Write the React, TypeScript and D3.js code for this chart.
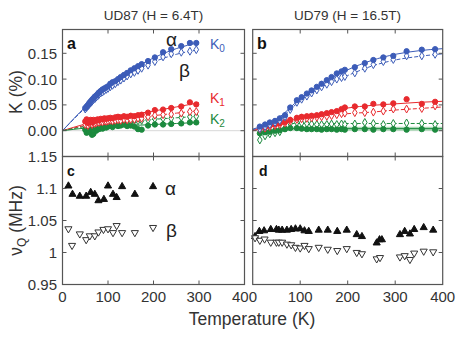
import React from 'react'
import * as d3 from 'd3'

// ---- data ----
// panel a (UD87, 6.4T): Knight shift components vs T
const tA = [50, 53, 56, 59, 62, 65, 68, 71, 74, 77, 80, 84, 88, 92, 96, 100, 105, 110, 116, 122, 128, 135, 142, 150, 158, 166, 174, 188, 203, 221, 239, 261, 280, 294]
const aK0alpha = [0.044, 0.047, 0.050, 0.054, 0.057, 0.060, 0.063, 0.066, 0.068, 0.071, 0.074, 0.077, 0.080, 0.082, 0.084, 0.086, 0.091, 0.094, 0.096, 0.100, 0.104, 0.108, 0.112, 0.117, 0.121, 0.125, 0.129, 0.135, 0.142, 0.152, 0.158, 0.164, 0.170, 0.170]
const aK0beta = [0.042, 0.045, 0.048, 0.051, 0.054, 0.057, 0.060, 0.062, 0.065, 0.067, 0.070, 0.073, 0.075, 0.078, 0.080, 0.082, 0.085, 0.088, 0.091, 0.095, 0.098, 0.102, 0.106, 0.110, 0.113, 0.117, 0.121, 0.127, 0.134, 0.143, 0.149, 0.152, 0.154, 0.157]
const aK1alpha = [0.018, 0.022, 0.015, 0.019, 0.021, 0.016, 0.021, 0.019, 0.020, 0.022, 0.020, 0.023, 0.022, 0.024, 0.023, 0.024, 0.025, 0.024, 0.026, 0.027, 0.026, 0.028, 0.027, 0.029, 0.028, 0.030, 0.031, 0.035, 0.040, 0.041, 0.044, 0.047, 0.055, 0.051]
const aK1beta = [0.012, 0.016, 0.010, 0.014, 0.016, 0.012, 0.015, 0.014, 0.015, 0.017, 0.016, 0.018, 0.017, 0.019, 0.018, 0.019, 0.020, 0.019, 0.020, 0.021, 0.020, 0.022, 0.021, 0.022, 0.022, 0.024, 0.024, 0.027, 0.030, 0.031, 0.032, 0.034, 0.037, 0.037]
const aK2alpha = [0.002, -0.004, 0.006, -0.003, 0.004, -0.008, -0.006, 0.005, 0.000, 0.008, 0.003, 0.009, 0.004, 0.010, 0.006, 0.008, 0.010, 0.007, 0.011, 0.009, 0.010, 0.012, 0.009, 0.010, 0.008, 0.003, 0.002, 0.010, 0.012, 0.012, 0.013, 0.014, 0.016, 0.016]
const aK2beta = [0.008, 0.010, 0.012, 0.009, 0.013, 0.010, 0.014, 0.012, 0.015, 0.013, 0.016, 0.014, 0.016, 0.015, 0.017, 0.016, 0.018, 0.017, 0.018, 0.017, 0.019, 0.018, 0.019, 0.018, 0.020, 0.019, 0.020, 0.021, 0.023, 0.024, 0.024, 0.026, 0.027, 0.028]

// panel b (UD79, 16.5T)
const tB = [15, 26, 36, 47, 57, 68, 79, 93, 103, 114, 124, 135, 145, 156, 166, 177, 187, 194, 215, 236, 254, 275, 296, 324, 356, 384]
const bK0alpha = [0.008, 0.012, 0.016, 0.019, 0.024, 0.030, 0.045, 0.059, 0.065, 0.072, 0.078, 0.085, 0.091, 0.098, 0.104, 0.111, 0.115, 0.118, 0.123, 0.131, 0.137, 0.142, 0.145, 0.154, 0.157, 0.158]
const bK0beta = [0.004, 0.008, 0.012, 0.016, 0.020, 0.027, 0.041, 0.055, 0.061, 0.067, 0.073, 0.079, 0.085, 0.090, 0.095, 0.100, 0.103, 0.105, 0.112, 0.121, 0.128, 0.134, 0.138, 0.145, 0.145, 0.148]
const bK1alpha = [0.005, 0.007, 0.010, 0.012, 0.014, 0.017, 0.021, 0.025, 0.027, 0.028, 0.029, 0.030, 0.032, 0.034, 0.036, 0.038, 0.042, 0.045, 0.047, 0.047, 0.052, 0.051, 0.053, 0.061, 0.052, 0.056]
const bK1beta = [0.003, 0.005, 0.008, 0.010, 0.012, 0.015, 0.019, 0.022, 0.023, 0.024, 0.025, 0.026, 0.027, 0.028, 0.029, 0.031, 0.033, 0.034, 0.035, 0.035, 0.036, 0.038, 0.042, 0.042, 0.043, 0.048]
const bK2alpha = [-0.005, -0.003, -0.002, 0.000, 0.001, 0.003, 0.005, 0.005, 0.004, 0.003, 0.003, 0.003, 0.002, 0.003, 0.003, 0.002, 0.003, 0.002, 0.003, 0.003, 0.002, 0.003, 0.003, 0.002, 0.003, 0.002]
const bK2beta = [-0.018, -0.010, -0.006, -0.004, -0.002, 0.005, 0.014, 0.016, 0.015, 0.014, 0.013, 0.012, 0.012, 0.012, 0.013, 0.012, 0.013, 0.012, 0.013, 0.016, 0.014, 0.012, 0.014, 0.015, 0.014, 0.012]

// fit curves
const fitAT = [0, 50, 100, 150, 200, 250, 300]
const fitAK0alpha = [0, 0.046, 0.086, 0.117, 0.141, 0.159, 0.171]
const fitAK0beta = [0, 0.044, 0.082, 0.111, 0.133, 0.148, 0.157]
const fitAK1alpha = [0, 0.013, 0.024, 0.031, 0.038, 0.046, 0.054]
const fitAK1beta = [0, 0.010, 0.018, 0.023, 0.029, 0.034, 0.039]
const fitAK2alpha = [0, 0.005, 0.008, 0.010, 0.012, 0.014, 0.016]
const fitAK2beta = [0, 0.008, 0.014, 0.018, 0.022, 0.025, 0.028]

const fitBT = [0, 50, 100, 150, 200, 250, 300, 350, 400]
const fitBK0alpha = [0.003, 0.022, 0.062, 0.094, 0.118, 0.136, 0.148, 0.155, 0.159]
const fitBK0beta = [0.002, 0.018, 0.058, 0.087, 0.107, 0.125, 0.137, 0.144, 0.149]
const fitBK1alpha = [0.0, 0.012, 0.026, 0.035, 0.044, 0.049, 0.052, 0.055, 0.057]
const fitBK1beta = [0.0, 0.010, 0.022, 0.028, 0.033, 0.036, 0.040, 0.043, 0.046]
const fitBK2T = [80, 400]
const fitBK2alpha = [0.004, 0.004]
const fitBK2beta = [0.014, 0.014]

// panel c/d: quadrupole frequencies
const tC = [13, 22, 38, 52, 62, 71, 79, 91, 100, 111, 119, 131, 159, 199]
const cAlpha = [1.104, 1.091, 1.088, 1.088, 1.094, 1.091, 1.081, 1.083, 1.104, 1.091, 1.086, 1.103, 1.091, 1.103]
const tCb = [13, 21, 38, 52, 60, 71, 79, 90, 100, 111, 119, 131, 159, 199]
const cBeta = [1.037, 1.011, 1.029, 1.020, 1.026, 1.026, 1.032, 1.036, 1.037, 1.031, 1.042, 1.031, 1.031, 1.039]

const tD = [5, 14, 24, 38, 50, 55, 62, 72, 81, 90, 100, 109, 118, 139, 158, 178, 198, 219, 230, 261, 267, 272, 310, 320, 331, 340, 360, 380]
const dAlpha = [1.025, 1.033, 1.034, 1.036, 1.036, 1.035, 1.035, 1.035, 1.036, 1.037, 1.037, 1.034, 1.033, 1.035, 1.035, 1.033, 1.035, 1.028, 1.025, 1.015, 1.020, 1.020, 1.028, 1.033, 1.029, 1.036, 1.039, 1.035]
const tDb = [5, 15, 25, 38, 50, 55, 62, 72, 81, 90, 100, 109, 118, 139, 158, 178, 198, 219, 230, 261, 268, 310, 320, 331, 340, 360, 380]
const dBeta = [1.023, 1.019, 1.021, 1.016, 1.016, 1.016, 1.016, 1.013, 1.012, 1.008, 1.007, 1.011, 1.006, 1.008, 1.005, 1.003, 1.006, 1.000, 0.998, 0.990, 0.992, 0.993, 0.995, 0.989, 0.999, 1.002, 1.001]

const tempTicks = [0, 100, 200, 300, 400]
const kTicks = [0, 0.05, 0.1, 0.15]
const kTickLabels = ['0.00', '0.05', '0.10', '0.15']
const nuTicks = [0.95, 1, 1.05, 1.1, 1.15]
const nuTickLabels = ['0.95', '1', '1.05', '1.1', '1.15']

const BLUE = '#3c5cb8'
const RED = '#e82a2e'
const GREEN = '#1c8a3e'
const INK = '#333'
const FRAME = '#555'
const FONT = '"Liberation Sans", Arial, Helvetica, sans-serif'

const top = 29.5, mid = 156.5, bottom = 284.5
const xa = d3.scaleLinear().domain([0, 400]).range([62.5, 244.5])
const xb = d3.scaleLinear().domain([0, 400]).range([252.7, 442.7])
const yK = d3.scaleLinear().domain([-0.05, 0.15]).range([mid, 53.3])
const yNu = d3.scaleLinear().domain([0.95, 1.15]).range([bottom, mid])

const circle = d3.symbol(d3.symbolCircle, 22)()
const diamond = d3.symbol(d3.symbolDiamond, 18)()
const tri = d3.symbol(d3.symbolTriangle, 22)()

function Frame({ x, y0, y1, yTicks }) {
  const [x0, x1] = x.range()
  return (
    <g>
      <rect x={x0} y={y0} width={x1 - x0} height={y1 - y0} fill="none" stroke={FRAME} strokeWidth={1.2} />
      {tempTicks.slice(1, -1).map(t => (
        <g key={t}>
          <line x1={x(t)} x2={x(t)} y1={y0} y2={y0 + 4} stroke={FRAME} />
          <line x1={x(t)} x2={x(t)} y1={y1} y2={y1 - 4} stroke={FRAME} />
        </g>
      ))}
      {yTicks.map(v => (
        <g key={v}>
          <line x1={x0} x2={x0 + 4} y1={v} y2={v} stroke={FRAME} />
          <line x1={x1} x2={x1 - 4} y1={v} y2={v} stroke={FRAME} />
        </g>
      ))}
    </g>
  )
}

function Marks({ x, y, ts, vs, shape, fill, stroke, rot = 0 }) {
  return (
    <g>
      {ts.map((t, i) => (
        <path key={i} d={shape} transform={`translate(${x(t)},${y(vs[i])}) rotate(${rot})`}
          fill={fill} stroke={stroke} strokeWidth={1} />
      ))}
    </g>
  )
}

function Fit({ x, y, ts, vs, color, dash, width = 1 }) {
  const line = d3.line<number>().x((_, i) => x(ts[i])).y(v => y(v)).curve(d3.curveMonotoneX)
  return <path d={line(vs) || ''} fill="none" stroke={color} strokeWidth={width} strokeDasharray={dash} />
}

export default function App() {
  const kTickY = kTicks.map(v => yK(v))
  const nuTickY = nuTicks.slice(1, -1).map(v => yNu(v))
  const kSeries = (x, ts, sets) => sets.map(([vs, color, kind], i) => (
    <Marks key={i} x={x} y={yK} ts={ts} vs={vs}
      shape={kind === 'a' ? circle : diamond}
      fill={kind === 'a' ? color : 'white'} stroke={color} />
  ))
  return (
    <svg width={463} height={340} style={{ position: 'absolute', left: 0, top: 0, fontFamily: FONT }}>
      <rect width={463} height={340} fill="white" />
      {/* titles */}
      <text x={153.5} y={20} textAnchor="middle" fontSize={13.5} fill={INK}>UD87 (H = 6.4T)</text>
      <text x={347.5} y={20} textAnchor="middle" fontSize={13.5} fill={INK}>UD79 (H = 16.5T)</text>

      {/* zero lines */}
      <line x1={xa(0)} x2={xa(400)} y1={yK(0)} y2={yK(0)} stroke="#d8d8d8" strokeWidth={1} />
      <line x1={xb(0)} x2={xb(400)} y1={yK(0)} y2={yK(0)} stroke="#d8d8d8" strokeWidth={1} />

      {/* panel a fits */}
      <Fit x={xa} y={yK} ts={fitAT} vs={fitAK0alpha} color={BLUE} />
      <Fit x={xa} y={yK} ts={fitAT} vs={fitAK0beta} color={BLUE} dash="4,2" />
      <Fit x={xa} y={yK} ts={fitAT} vs={fitAK1alpha} color={RED} />
      <Fit x={xa} y={yK} ts={fitAT} vs={fitAK1beta} color={RED} dash="4,2" />
      <Fit x={xa} y={yK} ts={fitAT} vs={fitAK2alpha} color={GREEN} />
      <Fit x={xa} y={yK} ts={fitAT} vs={fitAK2beta} color={GREEN} dash="4,2" />
      {kSeries(xa, tA, [
        [aK2beta, GREEN, 'b'], [aK2alpha, GREEN, 'a'],
        [aK1beta, RED, 'b'], [aK1alpha, RED, 'a'],
        [aK0beta, BLUE, 'b'], [aK0alpha, BLUE, 'a'],
      ])}

      {/* panel b fits */}
      <Fit x={xb} y={yK} ts={fitBK2T} vs={fitBK2alpha} color="#a8d8b4" width={4} />
      <Fit x={xb} y={yK} ts={fitBT} vs={fitBK0alpha} color={BLUE} />
      <Fit x={xb} y={yK} ts={fitBT} vs={fitBK0beta} color={BLUE} dash="4,2" />
      <Fit x={xb} y={yK} ts={fitBT} vs={fitBK1alpha} color={RED} />
      <Fit x={xb} y={yK} ts={fitBT} vs={fitBK1beta} color={RED} dash="4,2" />
      <Fit x={xb} y={yK} ts={fitBK2T} vs={fitBK2alpha} color={GREEN} />
      <Fit x={xb} y={yK} ts={fitBK2T} vs={fitBK2beta} color={GREEN} dash="4,2" />
      {kSeries(xb, tB, [
        [bK2beta, GREEN, 'b'], [bK2alpha, GREEN, 'a'],
        [bK1beta, RED, 'b'], [bK1alpha, RED, 'a'],
        [bK0beta, BLUE, 'b'], [bK0alpha, BLUE, 'a'],
      ])}

      {/* panel c / d markers */}
      <Marks x={xa} y={yNu} ts={tC} vs={cAlpha} shape={tri} fill="#111" stroke="#111" />
      <Marks x={xa} y={yNu} ts={tCb} vs={cBeta} shape={tri} fill="white" stroke="#333" rot={180} />
      <Marks x={xb} y={yNu} ts={tD} vs={dAlpha} shape={tri} fill="#111" stroke="#111" />
      <Marks x={xb} y={yNu} ts={tDb} vs={dBeta} shape={tri} fill="white" stroke="#333" rot={180} />

      {/* frames */}
      <Frame x={xa} y0={top} y1={mid} yTicks={kTickY} />
      <Frame x={xb} y0={top} y1={mid} yTicks={kTickY} />
      <Frame x={xa} y0={mid} y1={bottom} yTicks={nuTickY} />
      <Frame x={xb} y0={mid} y1={bottom} yTicks={nuTickY} />

      {/* y tick labels */}
      {kTicks.map((v, i) => (
        <text key={v} x={57} y={yK(v)} dy="0.36em" textAnchor="end" fontSize={15} fill={INK}>{kTickLabels[i]}</text>
      ))}
      {nuTicks.map((v, i) => (
        <text key={v} x={57} y={yNu(v)} dy="0.36em" textAnchor="end" fontSize={15} fill={INK}>{nuTickLabels[i]}</text>
      ))}
      {/* x tick labels */}
      {tempTicks.map(t => (
        <text key={'a' + t} x={xa(t)} y={301.5} textAnchor="middle" fontSize={15} fill={INK}>{t}</text>
      ))}
      {tempTicks.slice(1).map(t => (
        <text key={'b' + t} x={xb(t)} y={301.5} textAnchor="middle" fontSize={15} fill={INK}>{t}</text>
      ))}

      {/* axis titles */}
      <text x={252} y={325} textAnchor="middle" fontSize={17.5} fill={INK}>Temperature (K)</text>
      <text transform={`translate(22,${yK(0.075)}) rotate(-90)`} textAnchor="middle" fontSize={17.5} fill={INK}>K (%)</text>
      <text transform={`translate(22,220.5) rotate(-90)`} textAnchor="middle" fontSize={17.5} fill={INK}>
        ν<tspan fontSize={12} dy={4}>Q</tspan><tspan dy={-4}> (MHz)</tspan>
      </text>

      {/* panel letters */}
      <text x={67} y={49} fontSize={16} fontWeight="bold" fill="#111">a</text>
      <text x={257} y={49} fontSize={16} fontWeight="bold" fill="#111">b</text>
      <text x={67} y={176} fontSize={14} fontWeight="bold" fill="#111">c</text>
      <text x={259} y={176} fontSize={14} fontWeight="bold" fill="#111">d</text>

      {/* series annotations */}
      <text x={166} y={46} fontSize={19} fill="#222">α</text>
      <text x={179} y={77} fontSize={19} fill="#222">β</text>
      <text x={210} y={49} fontSize={14} fill={BLUE}>K<tspan fontSize={10} dy={3}>0</tspan></text>
      <text x={210} y={103} fontSize={14} fill={RED}>K<tspan fontSize={10} dy={3}>1</tspan></text>
      <text x={210} y={124} fontSize={14} fill={GREEN}>K<tspan fontSize={10} dy={3}>2</tspan></text>
      <text x={165} y={195} fontSize={19} fill="#222">α</text>
      <text x={166} y={237} fontSize={19} fill="#222">β</text>
    </svg>
  )
}
